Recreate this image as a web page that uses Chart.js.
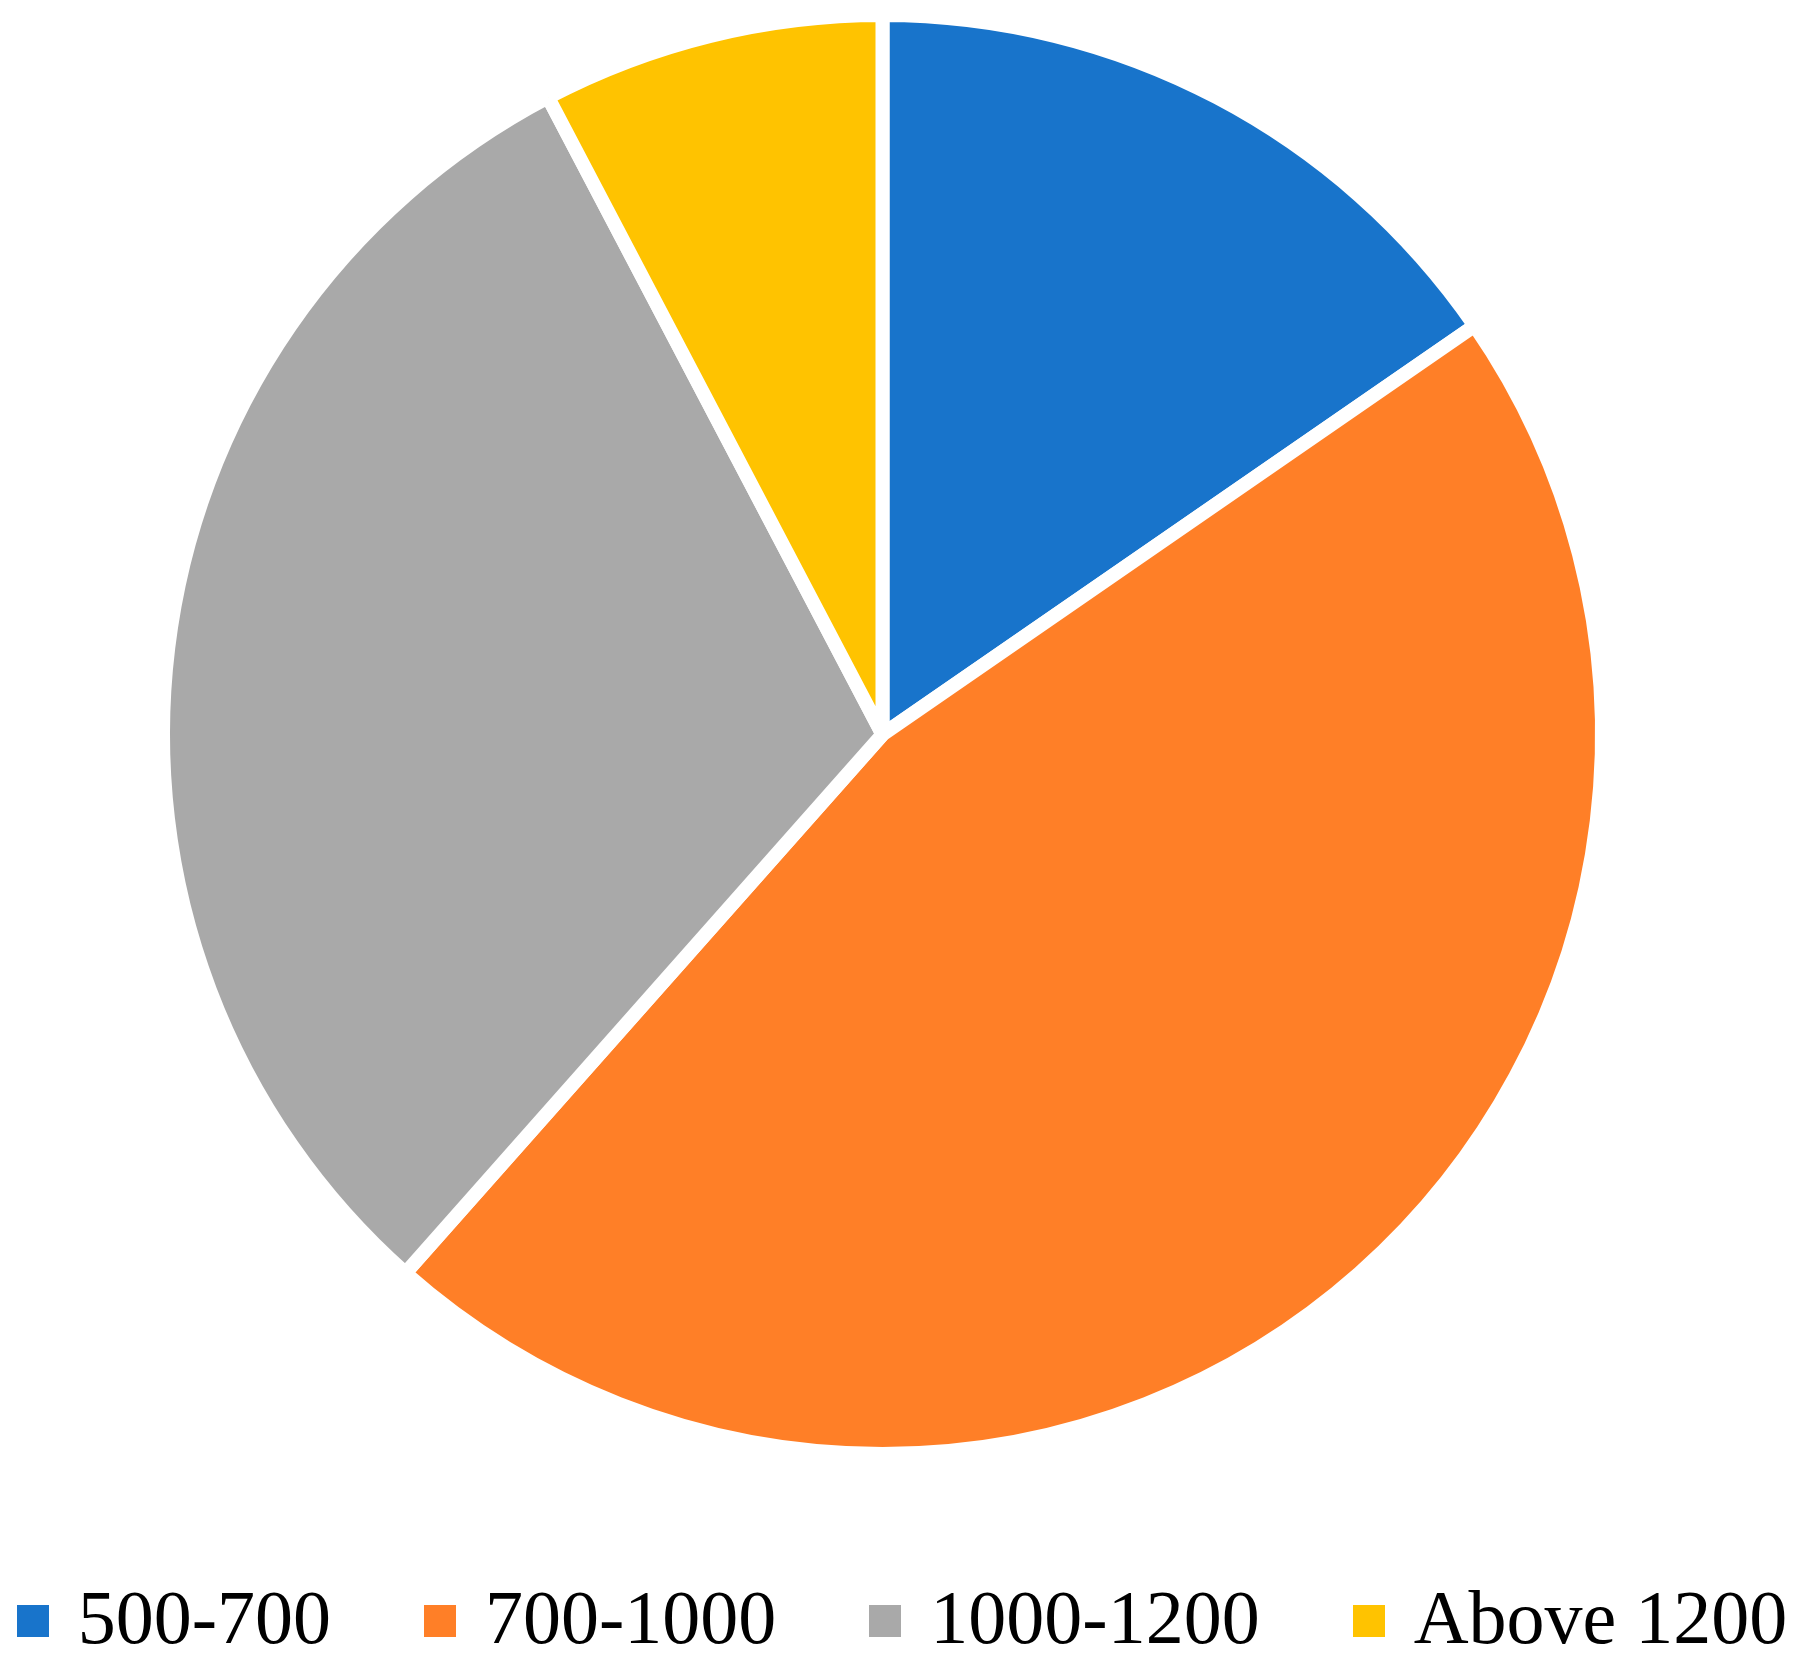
<!DOCTYPE html>
<html>
<head>
<meta charset="utf-8">
<script src="https://cdn.jsdelivr.net/npm/chart.js@4.4.1/dist/chart.umd.min.js"></script>
<style>
    html, body { margin: 0; padding: 0; background: #ffffff; }
    #wrap { position: relative; width: 1804px; height: 1673px; }
    #pie-chart { position: absolute; left: 0; top: 0; }
    #legend {
        position: absolute; left: 0; top: 1584px; width: 1804px; height: 74px;
        display: flex; justify-content: center; align-items: center; gap: 93px;
        font-family: "Liberation Serif", "DejaVu Serif", serif; font-size: 76px;
        line-height: 74px; color: #000000;
    }
    .item { display: flex; align-items: center; }
    .box  { width: 32px; height: 32px; margin-right: 29px; }
    .txt  { position: relative; top: -4px; white-space: nowrap; }
</style>
</head>
<body>
<div id="wrap">
    <canvas id="pie-chart" width="1804" height="1673"></canvas>
    <div id="legend"></div>
</div>
<script>
// Price bands and their counts
const bands  = ['500-700', '700-1000', '1000-1200', 'Above 1200'];
const counts = [6, 18, 12, 3];
const colors = ['#1874CB', '#FF7F27', '#A9A9A9', '#FFC300'];

const chart = new Chart(document.getElementById('pie-chart'), {
    type: 'pie',
    data: {
        labels: bands,
        datasets: [{
            data: counts,
            backgroundColor: colors,
            borderColor: '#ffffff',
            borderWidth: 14
        }]
    },
    options: {
        responsive: false,
        animation: false,
        radius: 719.5,
        layout: { padding: { left: 0, right: 39, top: 0, bottom: 204 } },
        plugins: {
            legend:  { display: false },
            tooltip: { enabled: false }
        }
    }
});

// HTML legend built from the chart's own labels
const legendEl = document.getElementById('legend');
chart.data.labels.forEach((label, i) => {
    const item = document.createElement('div');
    item.className = 'item';
    const box = document.createElement('span');
    box.className = 'box';
    box.style.background = colors[i];
    const txt = document.createElement('span');
    txt.className = 'txt';
    txt.textContent = label;
    item.appendChild(box);
    item.appendChild(txt);
    legendEl.appendChild(item);
});
</script>
</body>
</html>
